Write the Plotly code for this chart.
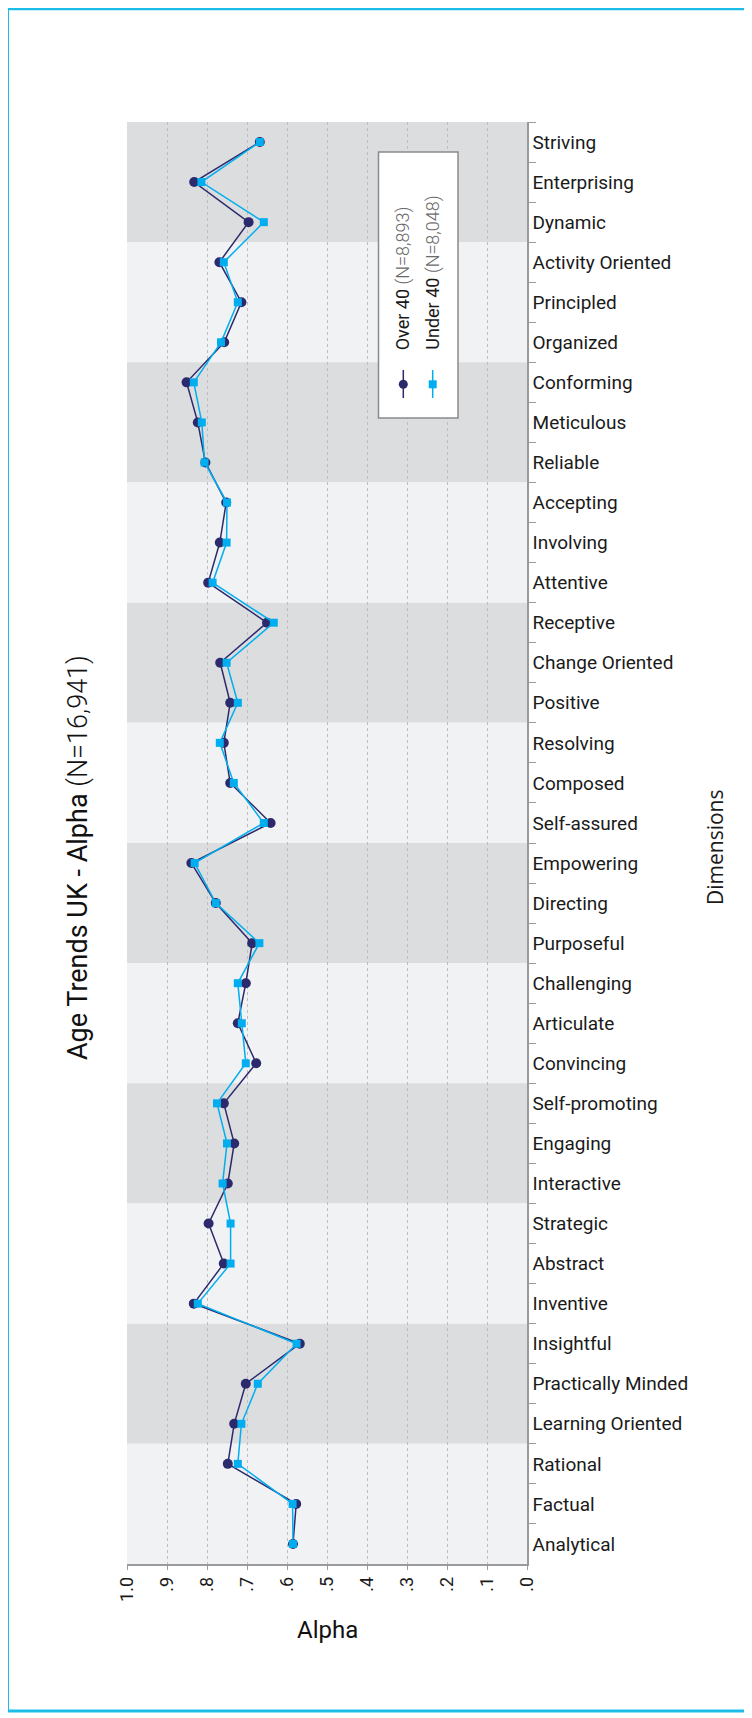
import plotly.graph_objects as go

# ---------------- data (top to bottom) ----------------
categories = ["Striving", "Enterprising", "Dynamic", "Activity Oriented", "Principled", "Organized",
              "Conforming", "Meticulous", "Reliable", "Accepting", "Involving", "Attentive",
              "Receptive", "Change Oriented", "Positive", "Resolving", "Composed", "Self-assured",
              "Empowering", "Directing", "Purposeful", "Challenging", "Articulate", "Convincing",
              "Self-promoting", "Engaging", "Interactive", "Strategic", "Abstract", "Inventive",
              "Insightful", "Practically Minded", "Learning Oriented", "Rational", "Factual", "Analytical"]

over40 = [0.668, 0.832, 0.696, 0.769, 0.714, 0.757, 0.851, 0.823, 0.804, 0.752, 0.768, 0.797,
          0.650, 0.767, 0.742, 0.758, 0.742, 0.641, 0.839, 0.778, 0.687, 0.703, 0.723, 0.677,
          0.758, 0.732, 0.748, 0.796, 0.758, 0.833, 0.568, 0.703, 0.732, 0.748, 0.577, 0.585]

under40 = [0.668, 0.814, 0.658, 0.758, 0.723, 0.765, 0.833, 0.813, 0.806, 0.750, 0.751, 0.786,
           0.633, 0.751, 0.723, 0.768, 0.733, 0.658, 0.831, 0.778, 0.669, 0.723, 0.713, 0.703,
           0.775, 0.750, 0.761, 0.741, 0.741, 0.823, 0.576, 0.673, 0.714, 0.723, 0.586, 0.585]

tick_vals = [1.0, 0.9, 0.8, 0.7, 0.6, 0.5, 0.4, 0.3, 0.2, 0.1, 0.0]
tick_text = ["1.0", ".9", ".8", ".7", ".6", ".5", ".4", ".3", ".2", ".1", ".0"]

series_names = ["Over 40", "Under 40"]
series_n = ["(N=8,893)", "(N=8,048)"]
title_main = "Age Trends UK - Alpha"
title_n = "(N=16,941)"

# ---------------- geometry helpers (page px, page has 8px body margin) ----------------
OFF = 8
W, H = 752, 1718
L, R, T, B = 127 - OFF, 527 - OFF, 122 - OFF, 1564 - OFF
PW, PH = R - L, B - T


def px(xp):
    return (xp - OFF - L) / PW


def py(yp):
    return (B - (yp - OFF)) / PH


NAVY = "#2b2a6c"
SKY = "#00aeef"
AXIS = "#9a9a9a"

fig = go.Figure()

fig.add_trace(go.Scatter(x=over40, y=categories, mode="lines+markers", name=series_names[0],
                         line=dict(color=NAVY, width=1.5),
                         marker=dict(symbol="circle", size=10, color=NAVY)))
fig.add_trace(go.Scatter(x=under40, y=categories, mode="lines+markers", name=series_names[1],
                         line=dict(color=SKY, width=1.5),
                         marker=dict(symbol="square", size=8, color=SKY)))

shapes = []
n_groups = len(categories) // 3
for g in range(n_groups):
    shapes.append(dict(type="rect", xref="paper", yref="y", x0=0, x1=1,
                       y0=g * 3 - 0.5, y1=g * 3 + 2.5, layer="below", line=dict(width=0),
                       fillcolor="#dcdddf" if g % 2 == 0 else "#f1f2f4"))

# outer cyan frame
shapes.append(dict(type="rect", xref="paper", yref="paper", x0=px(7.5), x1=px(745.5),
                   y0=py(1711), y1=py(8.8), line=dict(color="#1bbde8", width=3),
                   fillcolor="rgba(0,0,0,0)", layer="above"))

# legend box
shapes.append(dict(type="rect", xref="paper", yref="paper", x0=px(378.5), x1=px(458),
                   y0=py(418), y1=py(152), line=dict(color="#8a8a8a", width=1.5),
                   fillcolor="white", layer="above"))
for xc, col, kind in [(403.3, NAVY, "circle"), (432.7, SKY, "rect")]:
    shapes.append(dict(type="line", xref="paper", yref="paper", x0=px(xc), x1=px(xc),
                       y0=py(398), y1=py(370), line=dict(color=col, width=1.5), layer="above"))
    r = 4.5 if kind == "circle" else 4
    shapes.append(dict(type=kind, xref="paper", yref="paper", x0=px(xc - r), x1=px(xc + r),
                       y0=py(384.3 + r), y1=py(384.3 - r), line=dict(color=col, width=0),
                       fillcolor=col, layer="above"))

annotations = []
for xc, nm, nn in [(403.3, series_names[0], series_n[0]), (432.7, series_names[1], series_n[1])]:
    annotations.append(dict(xref="paper", yref="paper", x=px(xc), y=py(352), xanchor="center",
                            yanchor="bottom", textangle=-90, showarrow=False,
                            text=f"{nm} <span style='color:#6a6a6a;font-weight:300'>{nn}</span>",
                            font=dict(family="Roboto", size=18, color="#1a1a1a")))

annotations.append(dict(xref="paper", yref="paper", x=px(78), y=py(858), xanchor="center",
                        yanchor="middle", textangle=-90, showarrow=False,
                        text=f"{title_main} <span style='font-weight:300'>{title_n}</span>",
                        font=dict(family="Roboto", size=27, color="#111111")))
annotations.append(dict(xref="paper", yref="paper", x=px(715), y=py(848), xanchor="center",
                        yanchor="middle", textangle=-90, showarrow=False, text="Dimensions",
                        font=dict(family="Open Sans", size=21, color="#1a1a1a")))
annotations.append(dict(xref="paper", yref="paper", x=0.5, y=py(1630), xanchor="center",
                        yanchor="middle", showarrow=False, text="Alpha",
                        font=dict(family="Roboto", size=24, color="#111111")))

fig.update_layout(
    width=W, height=H,
    margin=dict(l=L, r=W - R, t=T, b=H - B),
    paper_bgcolor="white", plot_bgcolor="white",
    showlegend=False,
    font=dict(family="Roboto", color="#1a1a1a"),
    shapes=shapes, annotations=annotations,
    xaxis=dict(range=[1.0, 0.0], tickmode="array", tickvals=tick_vals, ticktext=tick_text,
               tickangle=-90, ticks="outside", ticklen=4, tickcolor=AXIS, showline=True,
               linecolor=AXIS, linewidth=1.5, showgrid=True, gridcolor="#bdbdbd", gridwidth=1,
               griddash="dot", zeroline=False, tickfont=dict(family="Roboto", size=18, color="#1a1a1a")),
    yaxis=dict(type="category", categoryorder="array", categoryarray=categories,
               range=[len(categories) - 0.5, -0.5], side="right", ticks="outside",
               tickson="boundaries", ticklen=7, tickcolor=AXIS, showline=True, linecolor=AXIS,
               linewidth=1.5, showgrid=False, zeroline=False,
               tickfont=dict(family="Roboto", size=19, color="#1a1a1a")),
)

fig.write_html("out.html")
